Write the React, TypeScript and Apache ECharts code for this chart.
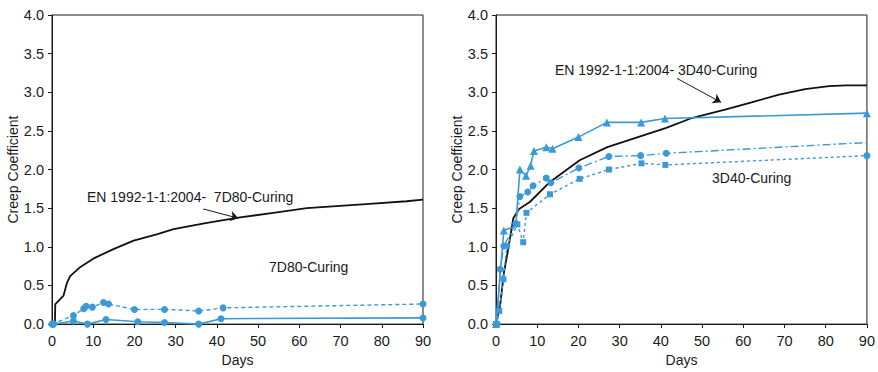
import React, { useEffect, useRef } from 'react';
import * as echarts from 'echarts';

// ---------- Left panel: 7D80-Curing ----------
const leftModelDays = [0, 0.7, 0.8, 2.8, 3.6, 4.4, 6.9, 10.1, 14.9, 19.8, 25.4, 29.5, 37.6, 45.6, 53.7, 61.8, 69.9, 77.9, 86, 90];
const leftModelValues = [0, 0, 0.26, 0.37, 0.53, 0.62, 0.74, 0.85, 0.97, 1.08, 1.16, 1.23, 1.31, 1.38, 1.44, 1.5, 1.53, 1.56, 1.59, 1.61];

const leftDashDays = [0, 5.2, 7.7, 8.3, 9.8, 12.5, 13.7, 20, 27.3, 35.6, 41.5, 90];
const leftDashValues = [0, 0.11, 0.2, 0.23, 0.22, 0.28, 0.26, 0.19, 0.19, 0.17, 0.21, 0.26];

const leftSolidDays = [0.4, 5.2, 8.6, 13.1, 20.8, 27.3, 35.6, 41, 90];
const leftSolidValues = [0, 0.04, 0, 0.06, 0.03, 0.02, 0, 0.07, 0.08];

// ---------- Right panel: 3D40-Curing ----------
const rightModelDays = [0, 1, 1.9, 2.9, 4.2, 5.6, 8.2, 13.1, 20.3, 27, 35, 41.3, 47.7, 55.8, 62, 68.7, 75, 80.8, 85, 90];
const rightModelValues = [0, 0.24, 0.66, 0.95, 1.37, 1.49, 1.58, 1.84, 2.12, 2.29, 2.43, 2.54, 2.67, 2.78, 2.87, 2.97, 3.04, 3.08, 3.09, 3.09];

const rightTriDays = [0, 1.9, 4.8, 5.8, 7.3, 8.4, 9.2, 12.2, 13.7, 20, 26.9, 35.2, 41, 90];
const rightTriValues = [0, 1.21, 1.27, 2.0, 1.92, 2.05, 2.24, 2.29, 2.27, 2.42, 2.61, 2.61, 2.66, 2.73];

const rightCircDays = [0.3, 1.0, 1.9, 4.8, 5.8, 7.7, 9.0, 12.2, 13.3, 20.1, 27.4, 35.1, 41.3, 90];
const rightCircValues = [0, 0.71, 1.01, 1.3, 1.65, 1.71, 1.79, 1.89, 1.83, 2.02, 2.17, 2.18, 2.21, 2.35];

const rightSqDays = [0, 0.8, 1.8, 2.6, 5.2, 6.6, 7.4, 13.1, 20.3, 27.4, 35.3, 41.1, 90];
const rightSqValues = [0, 0.17, 0.58, 1.01, 1.29, 1.06, 1.44, 1.68, 1.88, 2.0, 2.08, 2.06, 2.18];

// annotation arrows (data coordinates)
const leftArrow = [[36.7, 1.49], [45.2, 1.37]];
const rightArrow = [[43.9, 3.18], [54.6, 2.87]];

const BLUE = '#3a99d6';
const INK = '#1a1a1a';
const FONT = 'Liberation Sans, Arial, sans-serif';

const zip = (xs: number[], ys: number[]) => xs.map((x, i) => [x, ys[i]]);

function xAxis(gridIndex: number) {
  return {
    type: 'value', gridIndex, min: 0, max: 90, interval: 10,
    axisLine: { show: true, lineStyle: { color: INK, width: 1 } },
    axisTick: { show: true, length: 4, lineStyle: { color: INK } },
    axisLabel: { color: INK, fontSize: 14.5, fontFamily: FONT, margin: 9 },
    splitLine: { show: false },
    name: 'Days', nameLocation: 'middle', nameGap: 23,
    nameTextStyle: { color: INK, fontSize: 14, fontFamily: FONT },
  };
}
function yAxis(gridIndex: number) {
  return {
    type: 'value', gridIndex, min: 0, max: 4, interval: 0.5,
    axisLine: { show: true, lineStyle: { color: INK, width: 1 } },
    axisTick: { show: true, length: 4, lineStyle: { color: INK } },
    axisLabel: { color: INK, fontSize: 14.5, fontFamily: FONT, margin: 8, formatter: (v: number) => v.toFixed(1) },
    splitLine: { show: false },
    name: 'Creep Coefficient', nameLocation: 'middle', nameGap: 32,
    nameTextStyle: { color: INK, fontSize: 14, fontFamily: FONT },
  };
}

function arrowMark(a: number[][]) {
  return {
    silent: true, symbol: ['none', 'arrow'], symbolSize: 8,
    label: { show: false },
    lineStyle: { color: INK, width: 1, type: 'solid' },
    data: [[{ coord: a[0] }, { coord: a[1] }]],
  };
}

export default function App() {
  const ref = useRef<HTMLDivElement>(null);
  useEffect(() => {
    if (!ref.current) return;
    const chart = echarts.init(ref.current, undefined, { renderer: 'svg' });

    const triData: any[] = zip(rightTriDays, rightTriValues).map((p, i) => (i === 2 ? { value: p, symbol: 'none' } : p));
    const circData: any[] = zip(rightCircDays, rightCircValues).map((p, i, arr) => (i === arr.length - 1 ? { value: p, symbol: 'none' } : p));
    const sqData: any[] = zip(rightSqDays, rightSqValues).map((p, i, arr) => (i === arr.length - 1 ? { value: p, symbol: 'circle', symbolSize: 7 } : p));

    chart.setOption({
      animation: false,
      backgroundColor: '#fff',
      grid: [
        { left: 52, top: 15, width: 371, height: 317, show: true, borderColor: INK, borderWidth: 1, backgroundColor: 'transparent' },
        { left: 496, top: 15, width: 372, height: 317, show: true, borderColor: INK, borderWidth: 1, backgroundColor: 'transparent' },
      ],
      xAxis: [xAxis(0), xAxis(1)],
      yAxis: [yAxis(0), yAxis(1)],
      series: [
        {
          type: 'line', xAxisIndex: 0, yAxisIndex: 0, data: zip(leftModelDays, leftModelValues),
          showSymbol: false, symbol: 'none', lineStyle: { color: '#111', width: 1.8 }, z: 3,
          markLine: arrowMark(leftArrow),
        },
        {
          type: 'line', xAxisIndex: 0, yAxisIndex: 0, data: zip(leftDashDays, leftDashValues),
          symbol: 'circle', symbolSize: 7, itemStyle: { color: BLUE },
          lineStyle: { color: BLUE, width: 1.4, type: [4, 3] },
        },
        {
          type: 'line', xAxisIndex: 0, yAxisIndex: 0, data: zip(leftSolidDays, leftSolidValues),
          symbol: 'circle', symbolSize: 7, itemStyle: { color: BLUE },
          lineStyle: { color: BLUE, width: 1.6, type: 'solid' },
        },
        {
          type: 'line', xAxisIndex: 1, yAxisIndex: 1, data: zip(rightModelDays, rightModelValues),
          symbol: 'none', lineStyle: { color: '#111', width: 1.8 }, z: 3,
          markLine: arrowMark(rightArrow),
        },
        {
          type: 'line', xAxisIndex: 1, yAxisIndex: 1, data: triData,
          symbol: 'triangle', symbolSize: 8, itemStyle: { color: BLUE },
          lineStyle: { color: BLUE, width: 1.6, type: 'solid' },
        },
        {
          type: 'line', xAxisIndex: 1, yAxisIndex: 1, data: circData,
          symbol: 'circle', symbolSize: 7, itemStyle: { color: BLUE },
          lineStyle: { color: BLUE, width: 1.4, type: [8, 3, 2, 3] },
        },
        {
          type: 'line', xAxisIndex: 1, yAxisIndex: 1, data: sqData,
          symbol: 'rect', symbolSize: 6, itemStyle: { color: BLUE },
          lineStyle: { color: BLUE, width: 1.4, type: [3, 3] },
        },
      ],
      graphic: [
        { type: 'text', x: 87, y: 197, style: { text: 'EN 1992-1-1:2004-  7D80-Curing', fill: INK, font: `14px ${FONT}`, verticalAlign: 'middle' } },
        { type: 'text', x: 269, y: 267, style: { text: '7D80-Curing', fill: INK, font: `14px ${FONT}`, verticalAlign: 'middle' } },
        { type: 'text', x: 555, y: 70, style: { text: 'EN 1992-1-1:2004- 3D40-Curing', fill: INK, font: `14px ${FONT}`, verticalAlign: 'middle' } },
        { type: 'text', x: 712, y: 178, style: { text: '3D40-Curing', fill: INK, font: `14px ${FONT}`, verticalAlign: 'middle' } },
      ],
    });
    return () => chart.dispose();
  }, []);
  return <div ref={ref} style={{ position: 'fixed', left: 0, top: 0, width: 878, height: 372 }} />;
}
